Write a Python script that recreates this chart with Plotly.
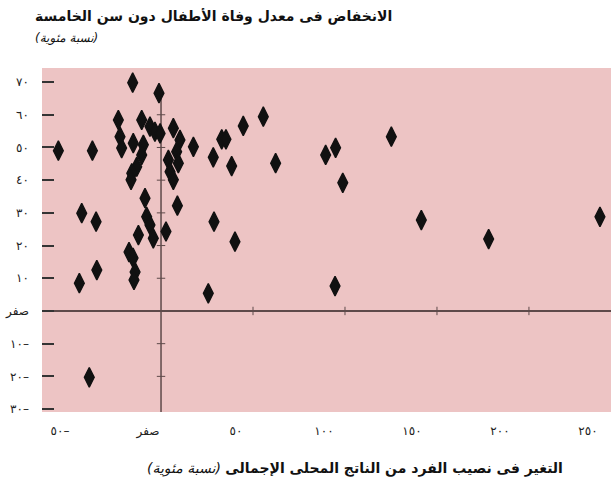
import plotly.graph_objects as go

# Change in GDP per capita (%) and decline in under-five mortality (%)
gdp_change = [55.6, 44.7, 33.0, 35.3, 28.4, 38.4, 62.3, 89.5, 94.9, 98.8, 125.2, 28.8, 40.2,
              141.5, 178.1, 238.6, 25.7, 94.6, -55.8, -37.3, -43.1, -35.3, -34.9, -44.4, -39.0,
              -15.4, -1.1, -23.2, -10.5, -6.0, -3.3, -0.5, 6.7, -22.3, 10.3, 17.6, -21.4, -15.1,
              -9.6, -10.5, 8.5, 4.0, 9.4, -13.2, -15.9, 4.9, -16.3, 6.7, -8.7, 8.9, -7.8, -6.0,
              -12.3, -4.2, 2.7, -17.4, -15.2, -14.1, -14.7]
mortality_decline = [59.4, 56.6, 52.5, 52.5, 47.0, 44.3, 45.2, 47.7, 49.9, 39.2, 53.3, 27.3, 21.2,
                     27.8, 22.0, 28.8, 5.4, 7.6, 49.0, 49.0, 29.9, 27.3, 12.5, 8.5, -20.3,
                     69.8, 66.6, 58.4, 58.4, 56.4, 54.8, 54.3, 55.9, 53.3, 52.3, 50.2, 49.8, 51.3,
                     50.8, 47.7, 48.7, 46.2, 45.2, 44.1, 42.1, 42.6, 40.1, 40.1, 34.5, 32.2, 28.8, 26.3,
                     23.2, 22.2, 24.3, 18.0, 16.2, 11.9, 9.5]

y_tick_values = [-30, -20, -10, 0, 10, 20, 30, 40, 50, 60, 70]
y_tick_labels = ["٣٠–", "٢٠–", "١٠–", "صفر", "١٠", "٢٠", "٣٠", "٤٠", "٥٠", "٦٠", "٧٠"]
x_tick_values = [-50, 0, 50, 100, 150, 200, 250]
x_tick_labels = ["٥٠–", "صفر", "٥٠", "١٠٠", "١٥٠", "٢٠٠", "٢٥٠"]
x_minor_marks = [50, 100, 150, 200]
y_minor_marks = [-20, -10, 10, 20, 30, 40, 50, 60]

title_text = "الانخفاض فى معدل وفاة الأطفال دون سن الخامسة"
subtitle_text = "(نسبة مئوية)"
x_title_text = "التغير فى نصيب الفرد من الناتج المحلى الإجمالى"

RLM = "\u200f"
line_col = "#5e4a4a"
font_fam = "DejaVu Sans"

fig = go.Figure()

# small marks on the zero lines
fig.add_trace(go.Scatter(x=x_minor_marks, y=[0] * len(x_minor_marks), mode="markers",
                         marker=dict(symbol="line-ns", size=6, line=dict(color=line_col, width=1)),
                         hoverinfo="skip", showlegend=False))
fig.add_trace(go.Scatter(x=[0] * len(y_minor_marks), y=y_minor_marks, mode="markers",
                         marker=dict(symbol="line-ew", size=6, line=dict(color=line_col, width=1)),
                         hoverinfo="skip", showlegend=False))

fig.add_trace(go.Scatter(
    x=gdp_change, y=mortality_decline, mode="markers",
    marker=dict(symbol="diamond-tall", size=14, color="#111111",
                line=dict(color="#111111", width=1.4)),
    showlegend=False))

# label-only axis for the x tick labels
fig.add_trace(go.Scatter(x=x_tick_values, y=[0] * len(x_tick_values), xaxis="x2",
                         mode="markers", marker=dict(opacity=0), hoverinfo="skip",
                         showlegend=False))

fig.add_shape(type="line", xref="x", yref="paper", x0=0, x1=0, y0=0, y1=0.93,
              line=dict(color=line_col, width=1.5), layer="below")

fig.update_layout(
    width=611, height=495,
    margin=dict(l=42, r=0, t=68, b=83),
    paper_bgcolor="white",
    plot_bgcolor="#edc4c4",
    font=dict(family=font_fam, color="#222222"),
    xaxis=dict(range=[-64.7, 244.6], showgrid=False, zeroline=False, showline=False,
               showticklabels=False, ticks="", automargin=False),
    xaxis2=dict(range=[-60.2, 263.1], overlaying="x", side="bottom", anchor="y",
                showgrid=False, zeroline=False, showline=False, ticks="", automargin=False,
                tickmode="array", tickvals=x_tick_values, ticktext=x_tick_labels,
                tickfont=dict(size=12, color="#222222"), ticklabelstandoff=10),
    yaxis=dict(range=[-30.9, 74.3], showgrid=False, showline=False, automargin=False,
               zeroline=True, zerolinecolor=line_col, zerolinewidth=1.5,
               tickmode="array", tickvals=y_tick_values, ticktext=y_tick_labels,
               ticks="inside", ticklen=12, tickwidth=1.5, tickcolor="#333333",
               tickfont=dict(size=12, color="#222222"), ticklabelstandoff=12),
    annotations=[
        dict(text="<b>" + RLM + title_text + RLM + "</b>", xref="paper", yref="paper",
             x=-0.016, y=1.151, xanchor="left", yanchor="middle", showarrow=False,
             font=dict(size=14, color="#111111", family=font_fam)),
        dict(text="<i>" + RLM + subtitle_text + RLM + "</i>", xref="paper", yref="paper",
             x=-0.016, y=1.088, xanchor="left", yanchor="middle", showarrow=False,
             font=dict(size=12, color="#111111", family=font_fam)),
        dict(text=RLM + "<b>" + x_title_text + "</b> <i>" + subtitle_text + "</i>" + RLM,
             xref="paper", yref="paper", x=0.55, y=-0.165, xanchor="center",
             yanchor="middle", showarrow=False,
             font=dict(size=14, color="#111111", family=font_fam)),
    ],
)

fig.write_html("out.html", config={"displayModeBar": False},
               post_script="document.body.style.margin='0';document.body.style.padding='0';")
